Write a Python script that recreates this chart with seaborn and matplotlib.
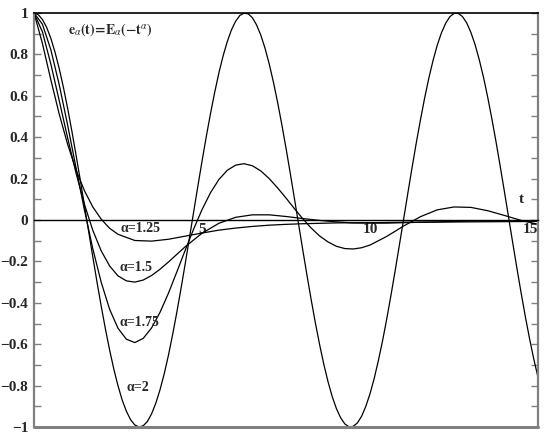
import matplotlib
matplotlib.use('Agg')
import matplotlib.pyplot as plt
import pandas as pd
import seaborn as sns
from matplotlib.ticker import MultipleLocator, FuncFormatter

# values: e_alpha(t) = E_alpha(-t^alpha)
t_a125 = [0, 0.25, 0.5, 0.75, 1, 1.25, 1.5, 1.75, 2, 2.25, 2.5, 3, 3.5, 4, 4.5, 5, 5.5, 6,
          6.5, 7, 7.5, 8, 9, 10, 11, 12, 13, 14, 15]
e_a125 = [1, 0.853, 0.678, 0.512, 0.366, 0.242, 0.142, 0.063, 0.004, -0.040, -0.069, -0.099,
          -0.102, -0.093, -0.078, -0.063, -0.049, -0.039, -0.031, -0.025, -0.021, -0.018,
          -0.014, -0.013, -0.011, -0.010, -0.009, -0.008, -0.007]

t_a15 = [0, 0.25, 0.5, 0.75, 1, 1.25, 1.5, 1.75, 2, 2.25, 2.5, 2.75, 3, 3.25, 3.5, 3.75, 4,
         4.5, 5, 5.5, 6, 6.5, 7, 7.5, 8, 8.5, 9, 9.5, 10, 10.5, 11, 11.5, 12, 12.5, 13, 13.5,
         14, 14.5, 15]
e_a15 = [1, 0.909, 0.754, 0.577, 0.397, 0.227, 0.076, -0.050, -0.149, -0.222, -0.270, -0.294,
         -0.300, -0.290, -0.268, -0.238, -0.203, -0.129, -0.064, -0.016, 0.013, 0.025, 0.025,
         0.017, 0.007, -0.002, -0.009, -0.014, -0.015, -0.015, -0.013, -0.011, -0.009, -0.007,
         -0.005, -0.005, -0.004, -0.004, -0.004]

t_a175 = [0, 0.25, 0.5, 0.75, 1, 1.25, 1.5, 1.75, 2, 2.25, 2.5, 2.75, 3, 3.25, 3.5, 3.75, 4,
          4.25, 4.5, 4.75, 5, 5.25, 5.5, 5.75, 6, 6.25, 6.5, 6.75, 7, 7.25, 7.5, 7.75, 8, 8.25,
          8.5, 8.75, 9, 9.25, 9.5, 9.75, 10, 10.5, 11, 11.5, 12, 12.5, 13, 13.5, 14, 14.5, 15]
e_a175 = [1, 0.946, 0.823, 0.654, 0.459, 0.253, 0.049, -0.139, -0.301, -0.431, -0.523, -0.576,
          -0.592, -0.572, -0.521, -0.446, -0.354, -0.251, -0.146, -0.044, 0.050, 0.131, 0.195,
          0.240, 0.265, 0.272, 0.262, 0.237, 0.200, 0.155, 0.106, 0.055, 0.006, -0.039, -0.077,
          -0.106, -0.127, -0.138, -0.140, -0.134, -0.121, -0.079, -0.029, 0.016, 0.049, 0.063,
          0.061, 0.045, 0.022, -0.002, -0.021]

# alpha = 2, sampled every 0.125 from 0 to 15
t_a2 = [i * 0.125 for i in range(121)]
e_a2 = [1, 0.992, 0.969, 0.931, 0.878, 0.811, 0.732, 0.641, 0.540, 0.431, 0.315, 0.195,
        0.071, -0.054, -0.178, -0.300, -0.416, -0.526, -0.628, -0.720, -0.801, -0.870,
        -0.924, -0.965, -0.990, -1.000, -0.994, -0.973, -0.936, -0.885, -0.820, -0.743,
        -0.654, -0.554, -0.446, -0.331, -0.211, -0.087, 0.038, 0.162, 0.284, 0.401, 0.512,
        0.615, 0.709, 0.791, 0.861, 0.918, 0.960, 0.988, 0.999, 0.996, 0.977, 0.942, 0.893,
        0.830, 0.754, 0.666, 0.568, 0.461, 0.347, 0.227, 0.104, -0.021, -0.146, -0.268,
        -0.386, -0.498, -0.602, -0.697, -0.781, -0.853, -0.911, -0.955, -0.985, -0.999,
        -0.997, -0.980, -0.948, -0.900, -0.839, -0.765, -0.678, -0.582, -0.476, -0.362,
        -0.243, -0.120, 0.004, 0.129, 0.252, 0.371, 0.483, 0.589, 0.685, 0.770, 0.844,
        0.904, 0.950, 0.982, 0.998, 0.998, 0.983, 0.953, 0.907, 0.848, 0.775, 0.691, 0.595,
        0.490, 0.378, 0.259, 0.137, 0.012, -0.113, -0.236, -0.355, -0.469, -0.575, -0.673,
        -0.760]

curves = [('1.25', t_a125, e_a125), ('1.5', t_a15, e_a15),
          ('1.75', t_a175, e_a175), ('2', t_a2, e_a2)]

# label positions for the alpha annotations
alpha_labels = ['α=1.25', 'α=1.5', 'α=1.75', 'α=2']
label_t = [3.17, 3.05, 3.14, 3.08]
label_y = [-0.04, -0.23, -0.494, -0.808]

df = pd.concat([pd.DataFrame({'t': t, 'e': e, 'alpha': a}) for a, t, e in curves])

sns.set_style('white')
plt.rcParams['font.family'] = ['Liberation Serif', 'DejaVu Serif']
plt.rcParams['mathtext.fontset'] = 'stix'

fig = plt.figure(figsize=(5.45, 4.36), dpi=100)
ax = fig.add_axes([0.0624, 0.0206, 0.9248, 0.9496])

sns.lineplot(data=df, x='t', y='e', units='alpha', estimator=None, sort=False,
             color='black', lw=0.9, ax=ax)

ax.set_xlim(0, 15)
ax.set_ylim(-1, 1)
ax.set_xlabel('')
ax.set_ylabel('')

# x axis runs through y=0
ax.spines['bottom'].set_position(('data', 0))
ax.spines['bottom'].set_color('black')
ax.spines['bottom'].set_linewidth(1.0)
ax.spines['top'].set_color('black')
ax.spines['top'].set_linewidth(1.2)
for s in ['left', 'right']:
    ax.spines[s].set_color('#808080')
    ax.spines[s].set_linewidth(1.6)
ax.axhline(-1, color='#808080', lw=2.2, clip_on=False)

ax.set_xticks([5, 10, 15], ['5', '10', '15'])
ax.xaxis.set_minor_locator(MultipleLocator(1))
ax.tick_params(axis='x', which='both', direction='in', length=5, width=0.8,
               color='black', pad=2, labelsize=11)
ax.get_xticklabels()[-1].set_horizontalalignment('right')

ax.yaxis.set_major_locator(MultipleLocator(0.2))
ax.yaxis.set_minor_locator(MultipleLocator(0.1))
ax.yaxis.set_major_formatter(FuncFormatter(lambda v, p: ('%g' % round(v, 1)).replace('-', '\u2212')))
ax.tick_params(axis='y', which='both', direction='in', length=5, width=1.0,
               color='#808080', left=True, right=True, pad=4, labelsize=11)

for lab in ax.get_xticklabels() + ax.get_yticklabels():
    lab.set_fontweight('bold')

for txt, x, y in zip(alpha_labels, label_t, label_y):
    ax.text(x, y, txt, ha='center', va='center', fontsize=10, fontweight='bold')

ax.text(1.0, 0.92, r'$\mathbf{e}_{\alpha}\mathbf{(t)\!=\!E}_{\alpha}\mathbf{(-t}^{\alpha}\mathbf{)}$',
        ha='left', va='center', fontsize=10)
ax.text(14.5, 0.097, 't', ha='center', va='center', fontsize=11, fontweight='bold')

fig.savefig('out.png', dpi=100)
